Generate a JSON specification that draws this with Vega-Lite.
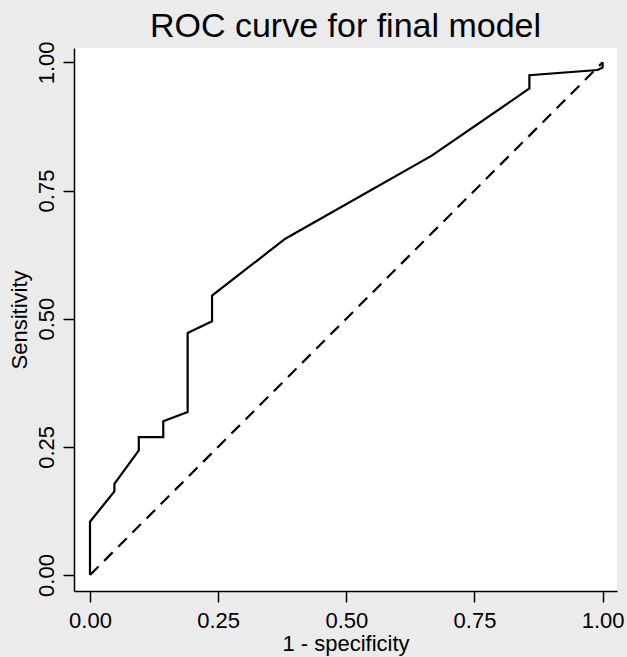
{
  "$schema": "https://vega.github.io/schema/vega-lite/v6.json",
  "autosize": {"type": "none"},
  "width": 543,
  "height": 543,
  "padding": {"left": 74, "top": 48, "right": 10, "bottom": 66},
  "background": "#ebebeb",
  "title": {
    "text": "ROC curve for final model",
    "font": "Liberation Sans",
    "fontSize": 34,
    "fontWeight": "normal",
    "color": "#000000",
    "anchor": "middle",
    "offset": -3
  },
  "config": {
    "view": {"fill": "#ffffff", "stroke": null},
    "axis": {
      "labelFont": "Liberation Sans",
      "titleFont": "Liberation Sans",
      "labelFontSize": 22,
      "titleFontSize": 22,
      "titleFontWeight": "normal",
      "labelColor": "#000000",
      "titleColor": "#000000",
      "domainColor": "#000000",
      "tickColor": "#000000",
      "domainWidth": 1.5,
      "tickWidth": 1.5,
      "tickSize": 11,
      "grid": false
    }
  },
  "layer": [
    {
      "data": {"values": [
        {"fpr": 0, "tpr": 0},
        {"fpr": 1, "tpr": 1}
      ]},
      "mark": {"type": "line", "color": "#000000", "strokeWidth": 2.2, "strokeDash": [12, 8]},
      "encoding": {
        "x": {"field": "fpr", "type": "quantitative", "scale": {"domain": [-0.0312, 1.028], "nice": false, "zero": false},
          "axis": {"title": "1 - specificity", "values": [0, 0.25, 0.5, 0.75, 1], "format": ".2f", "labelPadding": 8, "titlePadding": 2}},
        "y": {"field": "tpr", "type": "quantitative", "scale": {"domain": [-0.0312, 1.028], "nice": false, "zero": false},
          "axis": {"title": "Sensitivity", "values": [0, 0.25, 0.5, 0.75, 1], "format": ".2f", "labelAngle": -90, "labelAlign": "center", "labelBaseline": "bottom", "labelPadding": 5, "titlePadding": 4}}
      }
    },
    {
      "data": {"values": [
        {"i": 0, "fpr": 0, "tpr": 0},
        {"i": 1, "fpr": 0, "tpr": 0.104},
        {"i": 2, "fpr": 0.0476, "tpr": 0.163},
        {"i": 3, "fpr": 0.0476, "tpr": 0.178},
        {"i": 4, "fpr": 0.0952, "tpr": 0.243},
        {"i": 5, "fpr": 0.0952, "tpr": 0.269},
        {"i": 6, "fpr": 0.1429, "tpr": 0.269},
        {"i": 7, "fpr": 0.1429, "tpr": 0.3},
        {"i": 8, "fpr": 0.1905, "tpr": 0.318},
        {"i": 9, "fpr": 0.1905, "tpr": 0.472},
        {"i": 10, "fpr": 0.2381, "tpr": 0.495},
        {"i": 11, "fpr": 0.2381, "tpr": 0.545},
        {"i": 12, "fpr": 0.381, "tpr": 0.656},
        {"i": 13, "fpr": 0.6667, "tpr": 0.818},
        {"i": 14, "fpr": 0.8571, "tpr": 0.949},
        {"i": 15, "fpr": 0.8571, "tpr": 0.975},
        {"i": 16, "fpr": 0.99, "tpr": 0.985},
        {"i": 17, "fpr": 1.0, "tpr": 0.99},
        {"i": 18, "fpr": 1.0, "tpr": 1.0}
      ]},
      "mark": {"type": "line", "color": "#000000", "strokeWidth": 2.2},
      "encoding": {
        "x": {"field": "fpr", "type": "quantitative"},
        "y": {"field": "tpr", "type": "quantitative"},
        "order": {"field": "i", "type": "quantitative"}
      }
    }
  ]
}
